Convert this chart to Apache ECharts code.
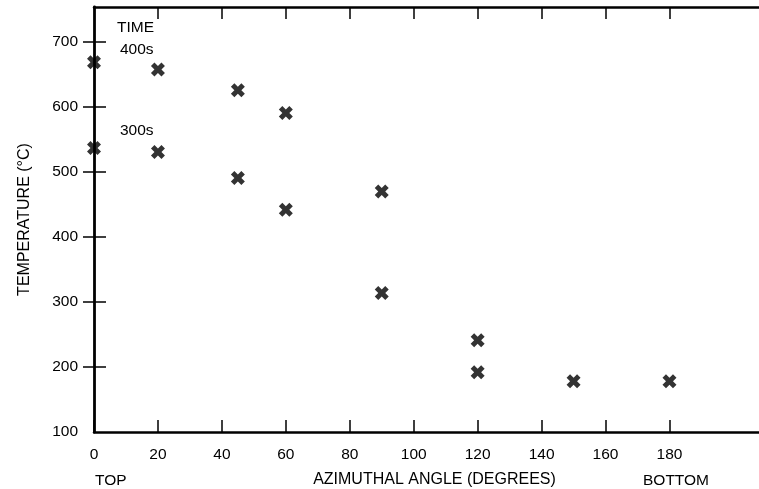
<!DOCTYPE html>
<html>
<head>
<meta charset="utf-8">
<script src="https://cdn.jsdelivr.net/npm/echarts@6/dist/echarts.min.js"></script>
<style>html,body{margin:0;padding:0;background:#fff}#c{width:759px;height:489px}</style>
</head>
<body>
<div id="c"></div>
<script>
// Data
var angles400 = [0, 20, 45, 60, 90, 120];
var temps400 = [669, 658, 626, 591, 470, 241];
var angles300 = [0, 20, 45, 60, 90, 120, 150, 180];
var temps300 = [537, 531, 491, 442, 314, 192, 178, 178];
var xTicks = [0, 20, 40, 60, 80, 100, 120, 140, 160, 180];
var yTicks = [100, 200, 300, 400, 500, 600, 700];
var yRightTicks = [200, 300, 400, 500, 600, 700];

function pairs(xs, ys) { return xs.map(function (x, i) { return [x, ys[i]]; }); }

var ink = '#000';
var font = '"Liberation Sans", Arial, sans-serif';
var xSym = 'path://M0,2.5 L2.5,0 L5,2.5 L7.5,0 L10,2.5 L7.5,5 L10,7.5 L7.5,10 L5,7.5 L2.5,10 L0,7.5 L2.5,5 Z';

var chart = echarts.init(document.getElementById('c'), null, { renderer: 'canvas' });
chart.setOption({
  backgroundColor: '#fff',
  animation: false,
  grid: { left: 94, right: 0, top: 7, bottom: 57, outerBoundsMode: 'none', containLabel: false },
  xAxis: [{
    type: 'value', min: 0, max: 208, position: 'bottom',
    name: 'AZIMUTHAL ANGLE (DEGREES)', nameLocation: 'middle', nameGap: 40,
    nameTextStyle: { color: ink, fontSize: 16, fontFamily: font, padding: [0, 0, 0, 16] },
    axisLine: { show: true, lineStyle: { color: ink, width: 2.5 } },
    axisTick: { show: true, inside: true, length: 12, customValues: xTicks, lineStyle: { color: ink, width: 1.5 } },
    axisLabel: { customValues: xTicks, color: ink, fontSize: 15.5, fontFamily: font, margin: 15 },
    splitLine: { show: false }
  }, {
    type: 'value', min: 0, max: 208, position: 'top',
    axisLine: { show: true, lineStyle: { color: ink, width: 2.5 } },
    axisTick: { show: true, inside: true, length: 12, customValues: xTicks.slice(1), lineStyle: { color: ink, width: 1.5 } },
    axisLabel: { show: false },
    splitLine: { show: false }
  }],
  yAxis: [{
    type: 'value', min: 100, max: 754, position: 'left',
    name: 'TEMPERATURE (°C)', nameLocation: 'middle', nameGap: 61, nameRotate: 90,
    nameTextStyle: { color: ink, fontSize: 16, fontFamily: font },
    axisLine: { show: true, lineStyle: { color: ink, width: 2.8 } },
    axisTick: { show: true, inside: true, length: 12, customValues: yTicks.slice(1), lineStyle: { color: ink, width: 1.5 } },
    axisLabel: { customValues: yTicks, color: ink, fontSize: 15.5, fontFamily: font, margin: 16 },
    splitLine: { show: false }
  }, {
    type: 'value', min: 100, max: 754, position: 'right',
    axisLine: { show: false },
    axisTick: { show: true, inside: true, length: 11, customValues: yRightTicks, lineStyle: { color: ink, width: 1.5 } },
    axisLabel: { show: false },
    splitLine: { show: false }
  }],
  series: [{
    name: '400s', type: 'scatter', xAxisIndex: 0, yAxisIndex: 0,
    symbol: xSym, symbolSize: 14, itemStyle: { color: ink },
    data: pairs(angles400, temps400)
  }, {
    name: '300s', type: 'scatter', xAxisIndex: 0, yAxisIndex: 0,
    symbol: xSym, symbolSize: 14, itemStyle: { color: ink },
    data: pairs(angles300, temps300)
  }],
  graphic: [
    { type: 'text', left: 117, top: 20, style: { text: 'TIME', fill: ink, font: '15.5px ' + font } },
    { type: 'text', left: 120, top: 42, style: { text: '400s', fill: ink, font: '15.5px ' + font } },
    { type: 'text', left: 120, top: 123, style: { text: '300s', fill: ink, font: '15.5px ' + font } },
    { type: 'text', left: 95, top: 473, style: { text: 'TOP', fill: ink, font: '15.5px ' + font } },
    { type: 'text', left: 643, top: 473, style: { text: 'BOTTOM', fill: ink, font: '15.5px ' + font } }
  ]
});
</script>
</body>
</html>
